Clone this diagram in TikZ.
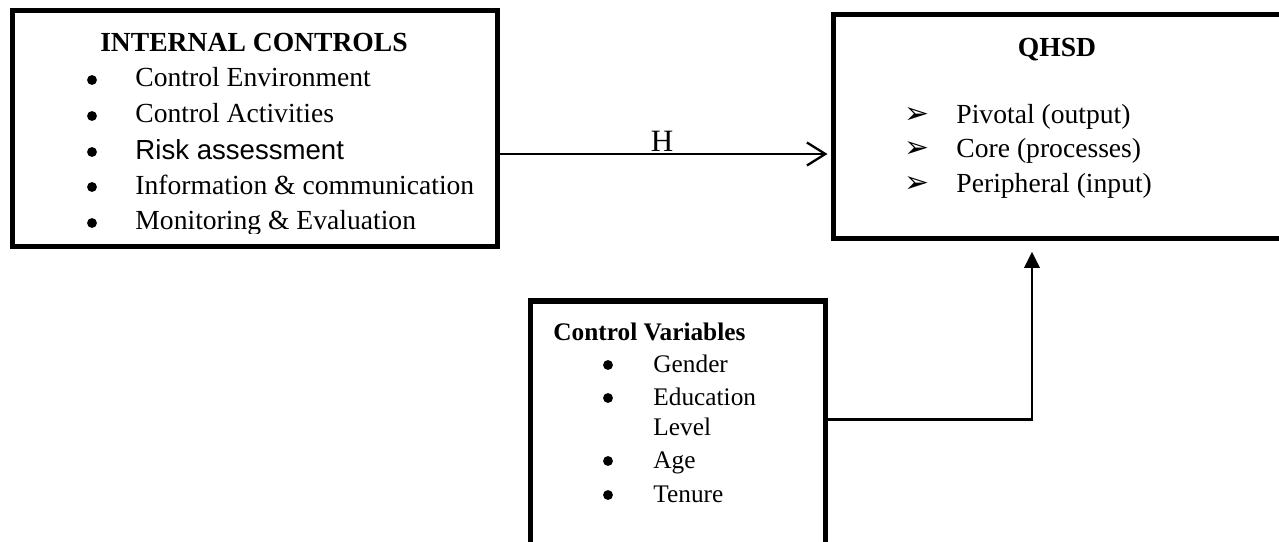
\documentclass[tikz,border=0pt]{standalone}
\usepackage{fontspec}
\setmainfont{Liberation Serif}
\newfontfamily\arialfont{Liberation Sans}
\newfontfamily\symfont{DejaVu Sans}
\usetikzlibrary{arrows.meta}

\tikzset{
    box/.style={draw, line width=2.2pt, inner sep=0pt},
    item/.style={anchor=base west, inner sep=0pt, font=\fontsize{12}{14}\selectfont},
    smallitem/.style={anchor=base west, inner sep=0pt, font=\fontsize{11}{13}\selectfont},
    bul/.style={circle, fill=black, inner sep=0pt, minimum size=4.3pt},
    arrbul/.style={anchor=base, inner sep=0pt, font=\fontsize{13}{15}\selectfont\symfont},
    headline/.style={anchor=base, inner sep=0pt, font=\fontsize{12}{14}\selectfont\bfseries}
}

\begin{document}
\begin{tikzpicture}[x=0.4348pt, y=-0.4348pt]
        \clip (0, 0) rectangle (1279, 542);

        % the three boxes
        \node[box, minimum width=210.9pt, minimum height=102.6pt] (ic) at (255, 128.5) {};
        \node[box, minimum width=200.7pt, minimum height=97pt] (qhsd) at (1064.25, 126.5) {};
        \node[box, minimum width=128.3pt, minimum height=112.6pt] (cv) at (678, 430.5) {};

        % internal controls
        \node[headline] (icTitle) at (254, 52) {INTERNAL CONTROLS};
        \node[bul] (icB1) at (92, 80) {};
        \node[item] (ic1) at (135, 87) {Control Environment};
        \node[bul] (icB2) at (92, 116) {};
        \node[item] (ic2) at (135, 123) {Control Activities};
        \node[bul] (icB3) at (92, 152) {};
        \node[item] (ic3) at (135, 159) {\arialfont Risk assessment};
        \node[bul] (icB4) at (92, 187) {};
        \node[item] (ic4) at (135, 194) {Information \& communication};
        \node[bul] (icB5) at (92, 223) {};
        \begin{scope}
            \clip (100, 200) rectangle (490, 233);
            \node[item] (ic5) at (135, 230) {Monitoring \& Evaluation};
        \end{scope}

        % qhsd
        \node[headline] (qTitle) at (1057, 57) {QHSD};
        \node[arrbul] (qB1) at (917, 124) {➢};
        \node[item] (q1) at (956, 124) {Pivotal (output)};
        \node[arrbul] (qB2) at (917, 158) {➢};
        \node[item] (q2) at (956, 158) {Core (processes)};
        \node[arrbul] (qB3) at (917, 192) {➢};
        \node[item] (q3) at (956, 192) {Peripheral (input)};

        % control variables
        \node[headline, anchor=base west, font=\fontsize{11}{13}\selectfont\bfseries] (cvTitle) at (553, 340) {Control Variables};
        \node[bul] (cvB1) at (608, 365) {};
        \node[smallitem] (cv1) at (653, 372) {Gender};
        \node[bul] (cvB2) at (608, 398) {};
        \node[smallitem] (cv2) at (653, 405) {Education};
        \node[smallitem] (cv2b) at (653, 435) {Level};
        \node[bul] (cvB3) at (608, 461) {};
        \node[smallitem] (cv3) at (653, 468) {Age};
        \node[bul] (cvB4) at (608, 495) {};
        \node[smallitem] (cv4) at (653, 502) {Tenure};

        % arrows
        \coordinate (hLine) at (0, 154);
        \draw[line width=1pt, -{Straight Barb[length=8pt, width=10pt]}, shorten >=1.5pt]
            (ic.east |- hLine) -- node[pos=0.49, anchor=base, inner sep=0pt, yshift=0.9pt,
            font=\fontsize{13.5}{15}\selectfont] (hLabel) {H} (qhsd.west |- hLine);

        \coordinate (turn) at (1032, 419.5);
        \draw[line width=0.9pt, -{Triangle[length=7pt, width=6.7pt]}, shorten >=4.9pt]
            (cv.east |- turn) -- (turn) -- (turn |- qhsd.south);
    \end{tikzpicture}
\end{document}
